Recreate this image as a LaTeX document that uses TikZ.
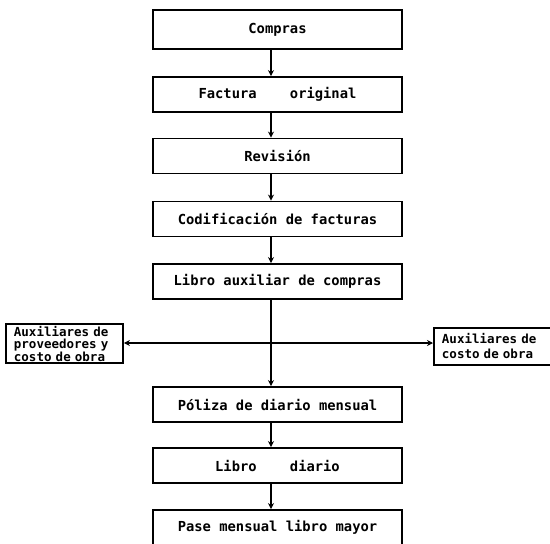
\documentclass[tikz,border=0pt]{standalone}
\usepackage{fontspec}
\setmonofont{DejaVu Sans Mono}
\usetikzlibrary{arrows.meta}
\tikzset{
  flowbox/.style={draw, line width=1.9pt, rectangle, minimum width=249pt,
    minimum height=35pt, inner sep=2pt,
    font=\ttfamily\bfseries\fontsize{13.8}{14}\selectfont},
  sidebox/.style={draw, line width=1.9pt, rectangle, minimum width=117pt,
    minimum height=39pt, inner xsep=8pt, inner ysep=2pt, align=left,
    font=\ttfamily\bfseries\fontsize{12.5}{12}\selectfont},
  link/.style={line width=1.9pt, -{Stealth[length=6pt,width=6pt]}}
}
\begin{document}
\begin{tikzpicture}[x=1pt,y=-1pt]
  \useasboundingbox (0,0) rectangle (550,544);

  % main column
  \node[flowbox, minimum height=39pt] (compras) at (277.5,29.5) {Compras};
  \node[flowbox] (factura)  at (277.5,94.5)  {Factura~~~~original};
  \node[flowbox] (revision) at (277.5,156)   {Revisión};
  \node[flowbox] (codif)    at (277.5,219)   {Codificación de facturas};
  \node[flowbox] (libroaux) at (277.5,281.5) {Libro auxiliar de compras};
  \node[flowbox] (poliza)   at (277.5,404.5) {Póliza de diario mensual};
  \node[flowbox] (diario)   at (277.5,465.5) {Libro~~~~diario};
  \node[flowbox] (pase)     at (277.5,527.5) {Pase mensual libro mayor};

  % side books
  \node[sidebox, anchor=north west, text width=101pt, inner xsep=8pt] (auxprov) at (5,323)
    {Auxiliares de\\proveedores y\\costo de obra};
  \node[sidebox, anchor=north west, text width=130pt, minimum height=37pt,
        font=\ttfamily\bfseries\fontsize{12.5}{15}\selectfont] (auxcosto) at (433,327)
    {Auxiliares de\\costo de obra};

  % spine of the flow and the branching point
  \coordinate (spine) at (271,0);
  \coordinate (branch) at (271,343);

  \draw[link] (compras.south -| spine)  -- (factura.north -| spine);
  \draw[link] (factura.south -| spine)  -- (revision.north -| spine);
  \draw[link] (revision.south -| spine) -- (codif.north -| spine);
  \draw[link] (codif.south -| spine)    -- (libroaux.north -| spine);
  \draw[link] (libroaux.south -| spine) -- (poliza.north -| spine);
  \draw[link] (poliza.south -| spine)   -- (diario.north -| spine);
  \draw[link] (diario.south -| spine)   -- (pase.north -| spine);

  \draw[link] (branch) -- (auxprov.east |- branch);
  \draw[link] (branch) -- (auxcosto.west |- branch);
\end{tikzpicture}
\end{document}
